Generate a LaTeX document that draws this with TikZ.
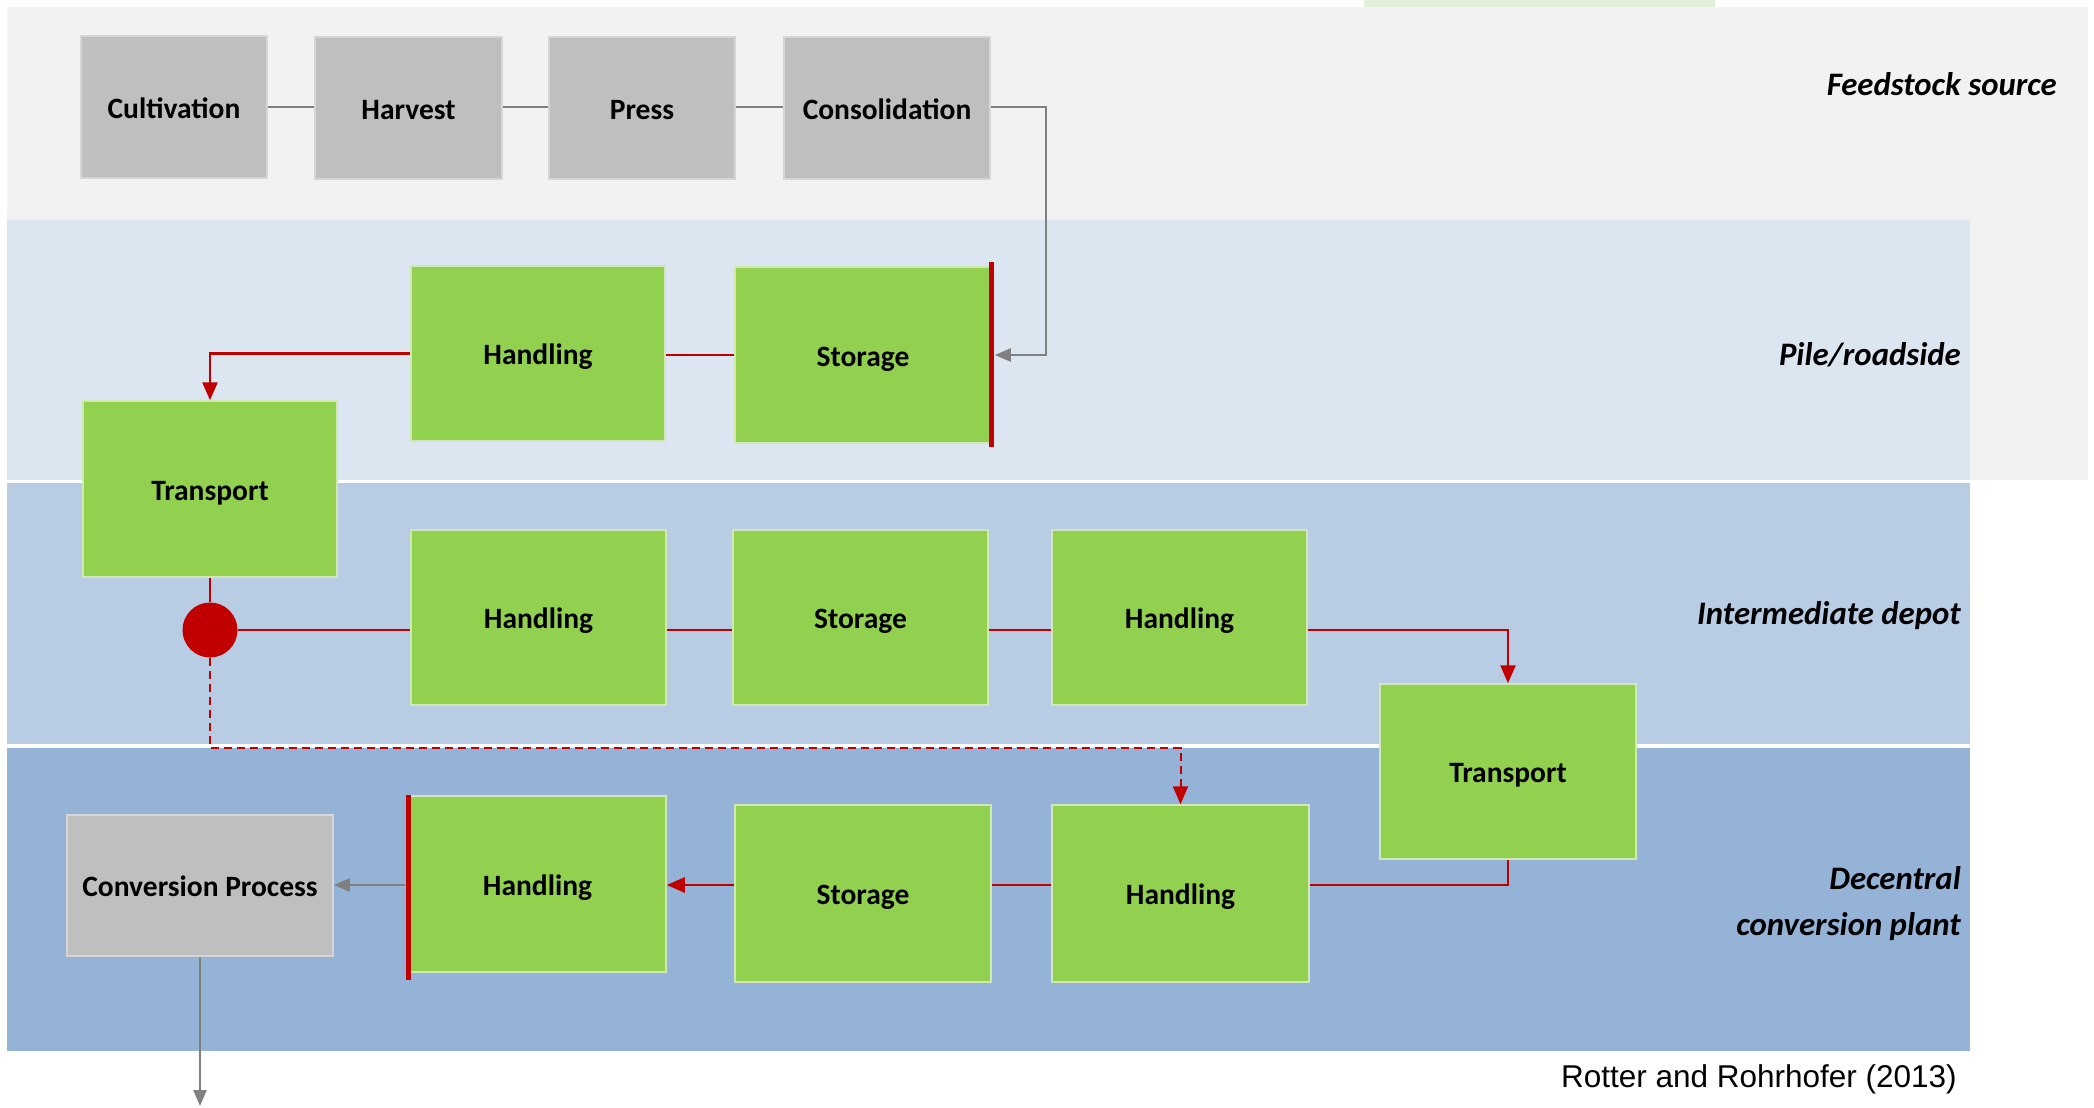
\documentclass[tikz,border=0pt]{standalone}
\usepackage{fontspec}
\setmainfont{Carlito}
\newfontfamily\citefont{Liberation Sans}
\usetikzlibrary{arrows.meta,calc}

\definecolor{bandsrc}{HTML}{F2F2F2}
\definecolor{bandpile}{HTML}{DCE6F1}
\definecolor{banddepot}{HTML}{B8CCE4}
\definecolor{bandplant}{HTML}{95B3D7}
\definecolor{stepgreen}{HTML}{92D050}
\definecolor{stepgreenedge}{HTML}{CFE8B4}
\definecolor{stepgrey}{HTML}{BFBFBF}
\definecolor{stepgreyedge}{HTML}{D6D6D6}
\definecolor{flowred}{HTML}{C00000}
\definecolor{flowgrey}{HTML}{808080}
\definecolor{tabgreen}{HTML}{E2F0D9}

\tikzset{
  stepbox/.style={rectangle, inner sep=0pt, line width=1.5pt,
    text height=22pt, text depth=0pt,
    font=\bfseries\fontsize{29.5}{34}\selectfont, text=black},
  greenbox/.style={stepbox, fill=stepgreen, draw=stepgreenedge},
  greybox/.style={stepbox, fill=stepgrey, draw=stepgreyedge},
  redline/.style={draw=flowred, line width=2.5pt},
  greyline/.style={draw=flowgrey, line width=2pt},
  redtip/.style={-{Triangle[length=18pt,width=15pt]}},
  greytip/.style={-{Triangle[length=16pt,width=13pt]}},
  redbar/.style={draw=flowred, line width=5pt},
  bandlabel/.style={anchor=east, inner sep=0pt,
    font=\bfseries\itshape\fontsize{32.8}{46}\selectfont, align=right}
}

\begin{document}
\begin{tikzpicture}[x=1pt,y=-1pt]
\useasboundingbox (0,0) rectangle (2094,1108);
\fill[white] (0,0) rectangle (2094,1108);

% bands of the supply chain
\fill[tabgreen] (1364,0) rectangle (1715,7);
\fill[bandsrc] (7,7) rectangle (2088,480);
\fill[bandpile] (7,220) rectangle (1970,480);
\fill[banddepot] (7,483) rectangle (1970,744);
\fill[bandplant] (7,748) rectangle (1970,1051);

% band labels
\node[bandlabel] (lsrc) at (2057,84) {Feedstock source};
\node[bandlabel] (lpile) at (1961,355) {Pile/roadside};
\node[bandlabel] (ldepot) at (1961,616) {Intermediate depot};
\node[bandlabel] (lplant) at (1961,904) {Decentral\\conversion plant};

% feedstock source steps
\node[greybox, minimum width=186pt, minimum height=142pt] (cult) at (174,107) {Cultivation};
\node[greybox, minimum width=187pt, minimum height=142pt] (harv) at (408.5,108) {Harvest};
\node[greybox, minimum width=186pt, minimum height=142pt] (press) at (642,108) {Press};
\node[greybox, minimum width=206pt, minimum height=142pt] (cons) at (887,108) {Consolidation};

% pile / roadside steps
\node[greenbox, minimum width=254pt, minimum height=175pt] (ph) at (538,353.5) {Handling};
\node[greenbox, minimum width=256pt, minimum height=176pt] (ps) at (863,355) {Storage};
\node[greenbox, minimum width=254pt, minimum height=176pt] (t1) at (210,489) {Transport};

% intermediate depot steps
\node[greenbox, minimum width=255pt, minimum height=175pt] (ih1) at (538.5,617.5) {Handling};
\node[greenbox, minimum width=255pt, minimum height=175pt] (is) at (860.5,617.5) {Storage};
\node[greenbox, minimum width=255pt, minimum height=175pt] (ih2) at (1179.5,617.5) {Handling};
\node[greenbox, minimum width=256pt, minimum height=175pt] (t2) at (1508,771.5) {Transport};

% decentral conversion plant steps
\node[greenbox, minimum width=257pt, minimum height=177pt] (dh2) at (1180.5,893.5) {Handling};
\node[greenbox, minimum width=256pt, minimum height=177pt] (ds) at (863,893.5) {Storage};
\node[greenbox, minimum width=257pt, minimum height=176pt] (dh1) at (537.5,884) {Handling};
\node[greybox, minimum width=266pt, minimum height=141pt] (conv) at (200,885.5) {Conversion Process};

% branching point
\node[circle, fill=flowred, minimum size=55pt, inner sep=0pt] (dot) at (210,630) {};

% helper coordinates
\coordinate (bend) at (1046,107);
\coordinate (rowd) at (0,885);
\coordinate (dashrow) at (0,748);
\coordinate (out) at (200,1106);

% feedstock chain
\draw[greyline] (cult.east |- bend) -- (harv.west |- bend);
\draw[greyline] (harv.east |- bend) -- (press.west |- bend);
\draw[greyline] (press.east |- bend) -- (cons.west |- bend);
\draw[greyline, greytip] (cons.east |- bend) -- (bend) |- ($(ps.east)+(3,0)$);

% pile / roadside chain
\draw[redline] (ps.west) -- (ph.east |- ps.west);
\draw[redline, redtip] (ph.west) -| (t1.north);
\draw[redbar] ($(ps.north east)+(0,-4)$) -- ($(ps.south east)+(0,3)$);

% intermediate depot chain
\draw[redline] (t1.south) -- (dot.north);
\draw[redline] (dot.east) -- (ih1.west |- dot);
\draw[redline] (ih1.east |- dot) -- (is.west |- dot);
\draw[redline] (is.east |- dot) -- (ih2.west |- dot);
\draw[redline, redtip] (ih2.east |- dot) -| (t2.north);

% direct route to the plant
\draw[draw=flowred, line width=2pt, dash pattern=on 8pt off 5pt, redtip]
  (dot.south) -- (dot.south |- dashrow) -| (dh2.north);

% decentral conversion plant chain
\draw[redline] (t2.south) |- (dh2.east |- rowd);
\draw[redline] (dh2.west |- rowd) -- (ds.east |- rowd);
\draw[redline, redtip] (ds.west |- rowd) -- (dh1.east |- rowd);
\draw[redbar] (dh1.north west) -- ($(dh1.south west)+(0,7)$);
\draw[greyline, greytip] ($(dh1.west |- rowd)+(-3,0)$) -- (conv.east |- rowd);
\draw[greyline, greytip] (conv.south) -- (out);

% source
\node[anchor=east, inner sep=0pt, font=\citefont\fontsize{31.5}{36}\selectfont] (cite) at (1957,1079) {Rotter and Rohrhofer (2013)};
\end{tikzpicture}
\end{document}
